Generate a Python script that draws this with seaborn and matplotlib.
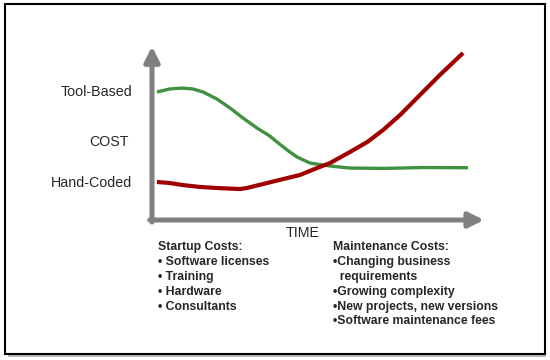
import pandas as pd
import seaborn as sns
import matplotlib.pyplot as plt
from matplotlib.patches import Rectangle

# Curve values (time 0-100, cost 0-100)
tool_time = [1.5, 5.4, 9.0, 12.3, 15.4, 19.6, 23.5, 27.4, 31.6, 35.5, 37.7, 40.7,
             43.7, 47.6, 53.6, 59.6, 70.0, 81.6, 95.2]
tool_cost = [74.4, 76.2, 76.7, 76.2, 74.4, 70.3, 65.1, 59.3, 53.5, 48.8, 45.3, 40.7,
             36.6, 33.1, 31.4, 30.2, 30.0, 30.5, 30.4]

hand_time = [1.5, 5.4, 9.3, 14.5, 19.6, 26.5, 28.6, 33.4, 39.5, 44.6, 49.7, 53.6,
             59.6, 64.8, 69.6, 74.7, 81.6, 86.7, 93.7]
hand_cost = [22.1, 21.5, 20.3, 19.2, 18.6, 18.0, 18.6, 20.9, 23.8, 26.2, 30.2, 33.1,
             39.5, 45.3, 52.3, 61.0, 74.4, 84.3, 97.1]

startup_lines = ["Startup Costs:", "• Software licenses", "• Training", "• Hardware",
                 "• Consultants"]
maint_lines = ["Maintenance Costs:", "•Changing business", "  requirements",
               "•Growing complexity", "•New projects, new versions",
               "•Software maintenance fees"]

tool_df = pd.DataFrame({"time": tool_time, "cost": tool_cost})
hand_df = pd.DataFrame({"time": hand_time, "cost": hand_cost})

sns.set_style("white")
plt.rcParams['font.family'] = ['Liberation Sans', 'DejaVu Sans']

W, H = 550, 360
fig = plt.figure(figsize=(5.5, 3.6), dpi=100)


def fx(px):
    return px / W


def fy(py):
    return 1 - py / H


ax = fig.add_axes([fx(152), fy(220), fx(484) - fx(152), fy(48) - fy(220)])
ax.set_xlim(0, 100)
ax.set_ylim(0, 100)
ax.axis('off')

sns.lineplot(data=tool_df, x="time", y="cost", color="#3f9140", linewidth=2.4,
             ax=ax, sort=False, solid_capstyle='butt')
sns.lineplot(data=hand_df, x="time", y="cost", color="#a00000", linewidth=3.0,
             ax=ax, sort=False, solid_capstyle='butt')

# gray axis arrows
arrow_style = dict(arrowstyle='-|>,head_length=1.0,head_width=0.5', color='#808080',
                   lw=3.6, mutation_scale=9, shrinkA=0, shrinkB=0)
ax.annotate('', xy=(0, 1.01), xytext=(0, -0.012), xycoords='axes fraction',
            arrowprops=arrow_style)
ax.annotate('', xy=(1, 0), xytext=(-0.007, 0), xycoords='axes fraction',
            arrowprops=arrow_style)

# axis labels
fig.text(fx(132), fy(92), "Tool-Based", ha='right', va='center', fontsize=10.3)
fig.text(fx(129), fy(142), "COST", ha='right', va='center', fontsize=10.3)
fig.text(fx(132), fy(183), "Hand-Coded", ha='right', va='center', fontsize=10.3)
fig.text(fx(303), fy(233), "TIME", ha='center', va='center', fontsize=10.3)

for i, line in enumerate(startup_lines):
    fig.text(fx(158), fy(247 + 14.9 * i), line, ha='left', va='center', fontsize=8.8,
             fontweight='bold')
for i, line in enumerate(maint_lines):
    fig.text(fx(333), fy(247 + 14.9 * i), line, ha='left', va='center', fontsize=8.8,
             fontweight='bold')

# frame with a light shadow along the bottom
fig.patches.append(Rectangle((fx(8), fy(357)), fx(546) - fx(8), fy(8) - fy(357),
                             transform=fig.transFigure, facecolor='#b8b8b8',
                             edgecolor='none', zorder=-2))
fig.patches.append(Rectangle((fx(5), fy(354)), fx(545) - fx(5), fy(4) - fy(354),
                             transform=fig.transFigure, facecolor='white',
                             edgecolor='black', lw=1.5, zorder=-1))

fig.savefig("out.png", dpi=100)
